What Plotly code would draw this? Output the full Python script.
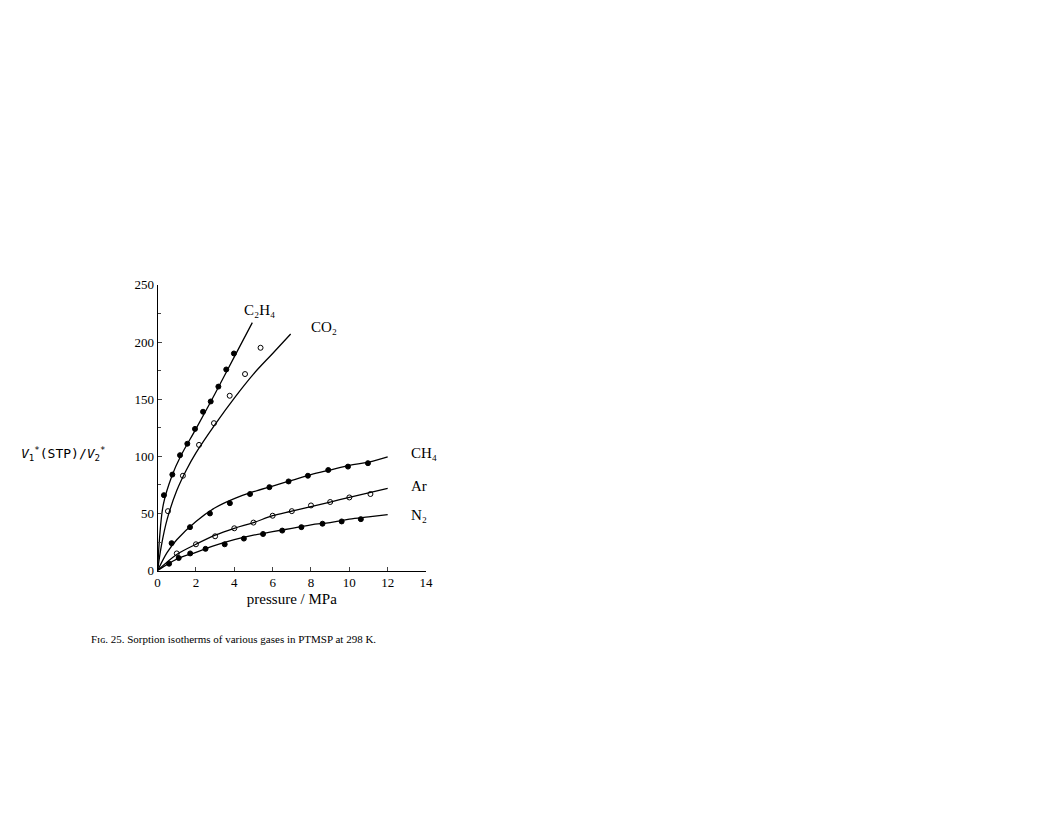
import plotly.graph_objects as go

c2h4_p = [0.33, 0.77, 1.17, 1.55, 1.95, 2.37, 2.77, 3.17, 3.58, 3.98]
c2h4_v = [66, 84, 101, 111, 124, 139, 148, 161, 176, 190]
co2_p = [0.54, 1.32, 2.16, 2.94, 3.76, 4.56, 5.37]
co2_v = [52, 83, 110, 129, 153, 172, 195]
ch4_p = [0.73, 1.69, 2.73, 3.77, 4.82, 5.83, 6.83, 7.84, 8.9, 9.93, 10.97]
ch4_v = [24, 38, 50, 59, 67, 73, 78, 83, 88, 91, 94]
ar_p = [1.0, 2.0, 3.0, 4.0, 5.0, 6.0, 7.0, 8.0, 9.0, 10.0, 11.1]
ar_v = [15, 23, 30, 37, 42, 48, 52, 57, 60, 64, 67]
n2_p = [0.6, 1.1, 1.7, 2.5, 3.5, 4.5, 5.5, 6.5, 7.5, 8.6, 9.6, 10.6]
n2_v = [6, 11, 15, 19, 23, 28, 32, 35, 38, 41, 43, 45]

c2h4_cp = [0, 0.1, 0.3, 0.75, 1.2, 2, 3, 4, 4.94]
c2h4_cv = [0, 28, 58, 83, 100, 124, 155, 187, 217]
co2_cp = [0, 0.2, 0.5, 1, 1.5, 2, 3, 4, 5, 6, 6.94]
co2_cv = [0, 22, 45, 70, 88, 103, 128, 151, 172, 190, 207]
ch4_cp = [0, 0.5, 1, 2, 3, 4, 5, 6, 7, 8, 9, 10, 11, 12]
ch4_cv = [0, 16, 27, 43, 55, 63, 69, 74, 79, 84, 88, 92, 95, 99.6]
ar_cp = [0, 1, 2, 3, 4, 5, 6, 7, 8, 9, 10, 11, 12]
ar_cv = [0, 14, 23, 31, 37, 42, 48, 52, 56, 60, 64, 68, 72]
n2_cp = [0, 1, 2, 3, 4, 5, 6, 7, 8, 9, 10, 11, 12]
n2_cv = [0, 10, 16, 22, 27, 31, 34, 37, 40, 42, 45, 47, 49]

labels = ["C₂H₄", "CO₂", "CH₄", "Ar", "N₂"]
label_pos = [(4.4, 228), (7.9, 213), (13.1, 103), (13.1, 74), (13.1, 49)]

fig = go.Figure()
for cp, cv in [(c2h4_cp, c2h4_cv), (co2_cp, co2_cv), (ch4_cp, ch4_cv), (ar_cp, ar_cv), (n2_cp, n2_cv)]:
    fig.add_trace(go.Scatter(x=cp, y=cv, mode="lines", line=dict(color="black", width=1.3, shape="spline"), showlegend=False))
for p, v, filled in [(c2h4_p, c2h4_v, True), (co2_p, co2_v, False), (ch4_p, ch4_v, True), (ar_p, ar_v, False), (n2_p, n2_v, True)]:
    fig.add_trace(go.Scatter(x=p, y=v, mode="markers", showlegend=False,
                             marker=dict(size=5, symbol="circle" if filled else "circle-open", color="black", line=dict(color="black", width=1))))
for t, (x, y) in zip(labels, label_pos):
    fig.add_annotation(x=x, y=y, text=t, showarrow=False, xanchor="left", font=dict(family="Liberation Serif", size=15, color="black"))

fig.add_annotation(xref="paper", yref="paper", x=8/1056, y=1-447/814, xanchor="left",
                   text="<i>V</i><sub>1</sub><sup>*</sup>(STP)/<i>V</i><sub>2</sub><sup>*</sup>",
                   showarrow=False, font=dict(family="DejaVu Sans Mono", size=13, color="black"))
fig.add_annotation(xref="paper", yref="paper", x=79/1056, y=1-644/814, xanchor="left",
                   text="Fɪɢ. 25. Sorption isotherms of various gases in PTMSP at 298 K.",
                   showarrow=False, font=dict(family="Liberation Serif", size=11, color="black"))

axfont = dict(family="Liberation Serif", size=13, color="black")
fig.update_layout(
    width=1056, height=814, autosize=False, margin=dict(l=0, r=0, t=0, b=0),
    paper_bgcolor="white", plot_bgcolor="white",
    xaxis=dict(domain=[148/1056, 419/1056], range=[0, 14], tickvals=list(range(0, 15, 2)), ticks="inside", ticklen=4,
               showline=True, linecolor="black", showgrid=False, zeroline=False, tickfont=axfont,
               title=dict(text="pressure / MPa", font=dict(family="Liberation Serif", size=15, color="black"), standoff=4)),
    yaxis=dict(domain=[1-566/814, 1-275/814], range=[0, 250], tickvals=list(range(0, 251, 50)), ticks="inside", ticklen=4,
               minor=dict(tickvals=list(range(25, 250, 50)), ticks="inside", ticklen=3),
               showline=True, linecolor="black", showgrid=False, zeroline=False, tickfont=axfont),
)
fig.write_html("out.html")
